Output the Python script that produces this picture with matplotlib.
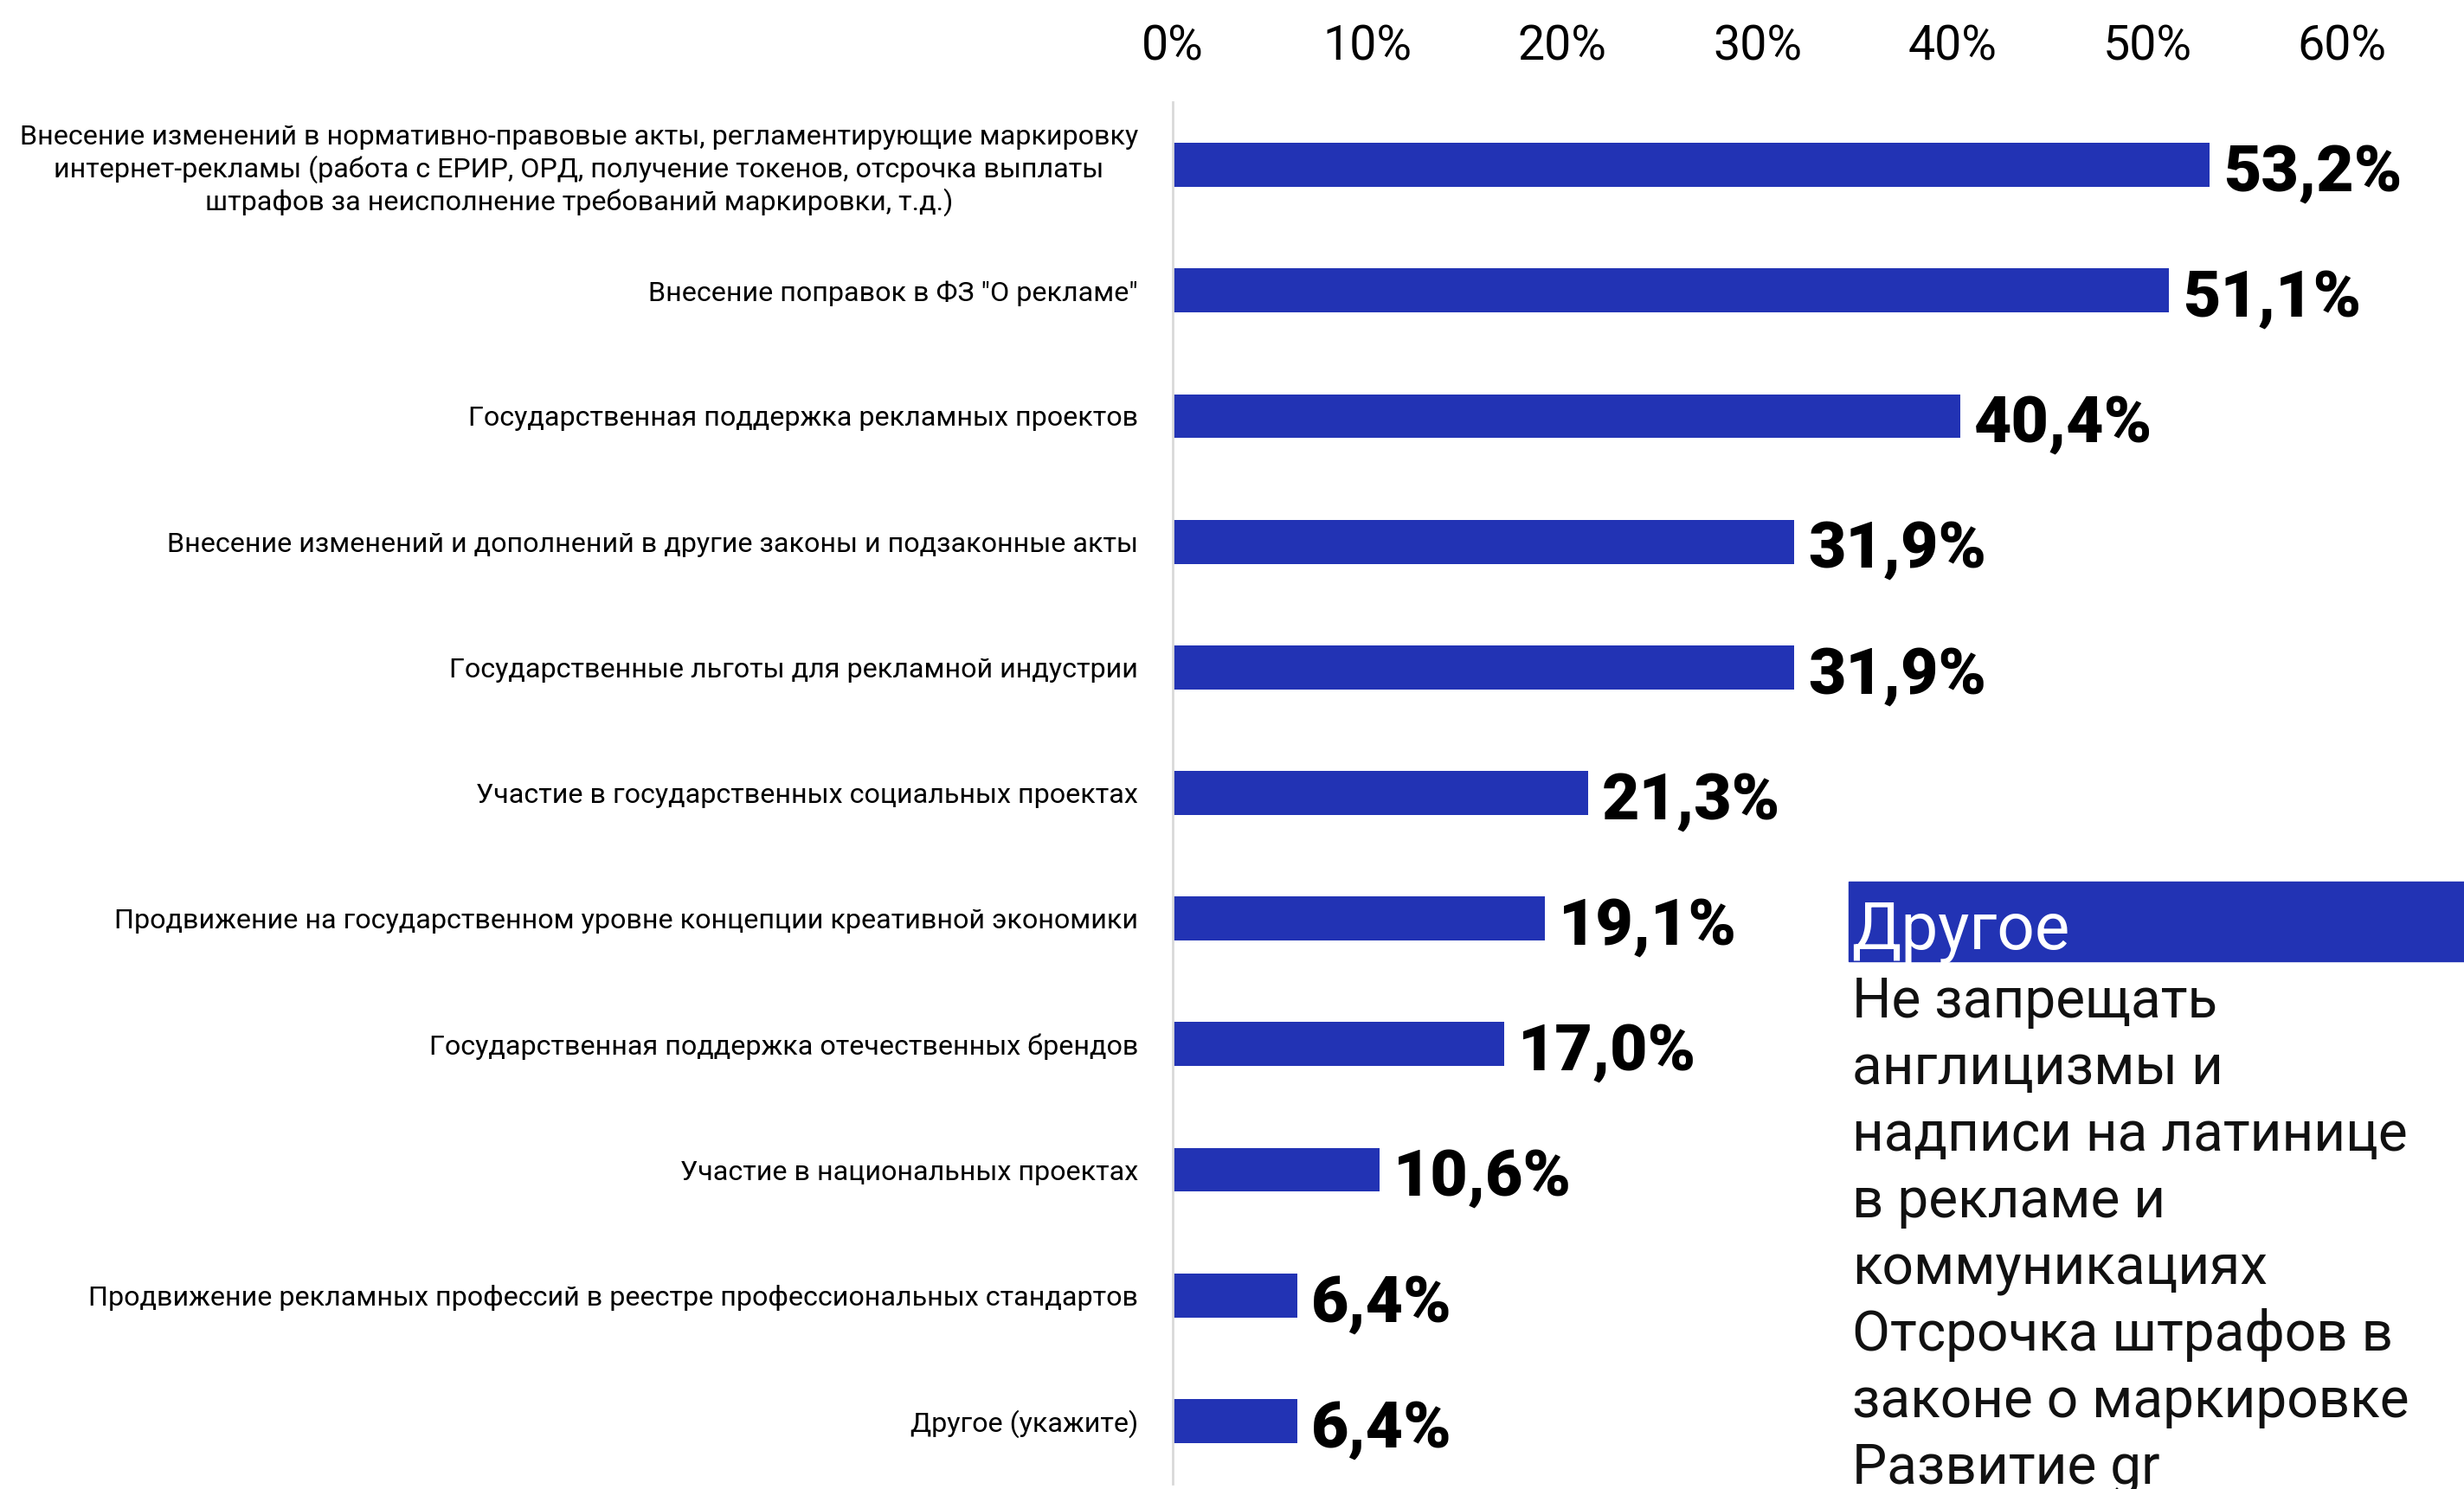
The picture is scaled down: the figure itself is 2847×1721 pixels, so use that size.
import matplotlib.pyplot as plt
from matplotlib.patches import Rectangle

# ---- data ----
categories = [
    "Внесение изменений в нормативно-правовые акты, регламентирующие маркировку\n"
    "интернет-рекламы (работа с ЕРИР, ОРД, получение токенов, отсрочка выплаты\n"
    "штрафов за неисполнение требований маркировки, т.д.)",
    'Внесение поправок в ФЗ "О рекламе"',
    "Государственная поддержка рекламных проектов",
    "Внесение изменений и дополнений в другие законы и подзаконные акты",
    "Государственные льготы для рекламной индустрии",
    "Участие в государственных социальных проектах",
    "Продвижение на государственном уровне концепции креативной экономики",
    "Государственная поддержка отечественных брендов",
    "Участие в национальных проектах",
    "Продвижение рекламных профессий в реестре профессиональных стандартов",
    "Другое (укажите)",
]
values = [53.2, 51.1, 40.4, 31.9, 31.9, 21.3, 19.1, 17.0, 10.6, 6.4, 6.4]
x_ticks = [0, 10, 20, 30, 40, 50, 60]

other_title = "Другое"
other_lines = [
    "Не запрещать",
    "англицизмы и",
    "надписи на латинице",
    "в рекламе и",
    "коммуникациях",
    "Отсрочка штрафов в",
    "законе о маркировке",
    "Развитие gr",
]

# ---- style ----
BAR_COLOR = "#2233b4"
plt.rcParams["font.family"] = ["Roboto", "DejaVu Sans"]

W, H = 2847, 1721
fig = plt.figure(figsize=(W / 100, H / 100), dpi=100)
ax = fig.add_axes([1355 / W, 6 / H, 1 - 1355 / W, (1715 - 118) / H])

pos = list(range(len(values)))
ax.barh(pos, values, height=0.35, color=BAR_COLOR)
ax.set_ylim(len(values) - 0.5, -0.5)
ax.set_xlim(0, 66.25)

# value labels
for y, v in zip(pos, values):
    ax.annotate(f"{v:.1f}".replace(".", ",") + "%", (v, y),
                xytext=(11.5, -21.5), textcoords="offset points",
                ha="left", va="baseline", fontsize=54, fontweight="black",
                color="black")

# axes cosmetics
ax.xaxis.tick_top()
ax.set_xticks(x_ticks)
ax.set_xticklabels([f"{t}%" for t in x_ticks], fontsize=40)
ax.tick_params(axis="x", length=0, pad=27)
ax.set_yticks(pos)
ax.set_yticklabels(categories, fontsize=23.2)
ax.tick_params(axis="y", length=0, pad=28.8)
for lbl in ax.get_yticklabels():
    lbl.set_multialignment("center")
    lbl.set_linespacing(1.22)
for s in ["top", "right", "bottom"]:
    ax.spines[s].set_visible(False)
ax.spines["left"].set_color("#d9d9d9")
ax.spines["left"].set_linewidth(2)

# side note with the free-text answers
fig.patches.append(Rectangle((2136 / W, 1 - 1111 / H), (W - 2136) / W, 92 / H,
                             transform=fig.transFigure, color=BAR_COLOR,
                             zorder=5))
fig.text(2139 / W, 1 - 1097 / H, other_title, color="white", fontsize=55,
         va="baseline", ha="left", zorder=6)
for i, line in enumerate(other_lines):
    fig.text(2140 / W, 1 - (1176 + 77 * i) / H, line, color="#111111",
             fontsize=46, va="baseline", ha="left", zorder=6)

fig.savefig("out.png", dpi=100)
